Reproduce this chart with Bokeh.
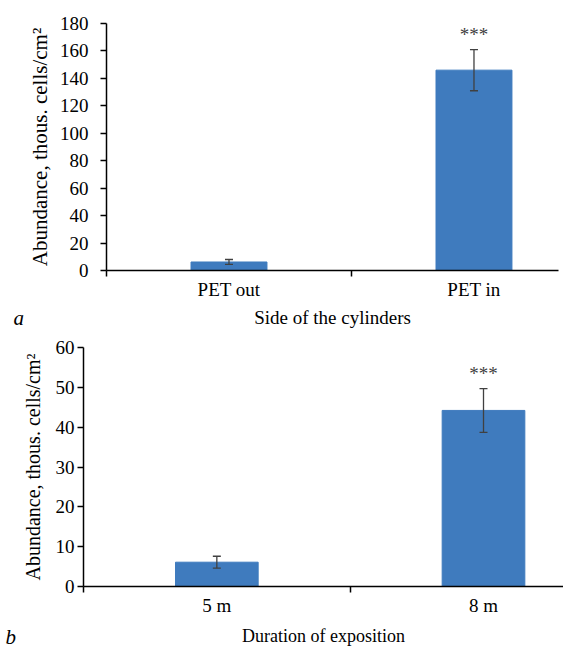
from bokeh.plotting import figure
from bokeh.models import (ColumnDataSource, Range1d, FixedTicker, Whisker, TeeHead, Title)
from bokeh.layouts import column
from bokeh.embed import file_html
from bokeh.resources import INLINE

# ---- data ----
cats_a = ["PET out", "PET in"]
vals_a = [6.2, 146.0]
err_a = [1.8, 15.0]
sig_a = ["", "***"]

cats_b = ["5 m", "8 m"]
vals_b = [6.1, 44.2]
err_b = [1.5, 5.5]
sig_b = ["", "***"]

yticks_a = list(range(0, 181, 20))
yticks_b = list(range(0, 61, 10))

BAR = "#3F7BBE"
ERR = "#404040"
FONT = "Liberation Serif"


def make(cats, vals, errs, sigs, yticks, ymax, xend, h, borders, title_x, letter,
         tick_fs, title_fs, xtick_fs, xtitle_fs, ystand, xstand):
    xs = [i + 0.5 for i in range(len(cats))]
    src = ColumnDataSource(dict(x=xs, top=vals,
                                upper=[v + e for v, e in zip(vals, errs)],
                                lower=[v - e for v, e in zip(vals, errs)],
                                sig=sigs))
    p = figure(width=563, height=h, output_backend="svg", toolbar_location=None,
               x_range=Range1d(0, xend), y_range=Range1d(0, ymax),
               min_border_left=borders[0], min_border_right=borders[1],
               min_border_top=borders[2], min_border_bottom=borders[3])
    try:
        p.frame_align = False
    except Exception:
        pass
    p.outline_line_color = None
    p.grid.visible = False
    p.vbar(x="x", top="top", width=0.31, source=src, fill_color=BAR, line_color=BAR)
    w = Whisker(base="x", upper="upper", lower="lower", source=src,
                line_color=ERR, line_width=1.3, level="overlay",
                upper_head=TeeHead(size=8, line_color=ERR, line_width=1.3),
                lower_head=TeeHead(size=8, line_color=ERR, line_width=1.3))
    p.add_layout(w)
    p.text(x="x", y="upper", text="sig", source=src, text_align="center",
           text_baseline="bottom", y_offset=-5, text_font_size="19px",
           text_color=ERR, text_font={"value": FONT})

    # y axis
    ya = p.yaxis[0]
    ya.ticker = FixedTicker(ticks=yticks)
    ya.axis_label = "Abundance, thous. cells/cm\u00b2"
    ya.axis_label_text_font = FONT
    ya.axis_label_text_font_style = "normal"
    ya.axis_label_text_font_size = title_fs
    ya.axis_label_text_color = "black"
    ya.axis_label_standoff = ystand[1]
    ya.major_label_text_font = FONT
    ya.major_label_text_font_size = tick_fs
    ya.major_label_text_color = "black"
    ya.major_label_standoff = ystand[0]
    ya.major_tick_in = 0
    ya.major_tick_out = 6
    ya.minor_tick_out = 0
    ya.minor_tick_in = 0
    ya.axis_line_width = 1.5
    ya.major_tick_line_width = 1.5

    # x axis
    xa = p.xaxis[0]
    xa.ticker = FixedTicker(ticks=xs, minor_ticks=list(range(len(cats) + 1)))
    xa.major_label_overrides = {x: c for x, c in zip(xs, cats)}
    xa.major_tick_in = 0
    xa.major_tick_out = 0
    xa.minor_tick_in = 0
    xa.minor_tick_out = 6
    xa.minor_tick_line_width = 1.5
    xa.axis_line_width = 1.5
    xa.major_label_text_font = FONT
    xa.major_label_text_font_size = xtick_fs
    xa.major_label_text_color = "black"
    xa.major_label_standoff = xstand[0]
    xa.axis_label = title_x
    xa.axis_label_text_font = FONT
    xa.axis_label_text_font_style = "normal"
    xa.axis_label_text_font_size = xtitle_fs
    xa.axis_label_text_color = "black"
    xa.axis_label_standoff = xstand[1]

    p.add_layout(Title(text=letter[2], align="left", offset=letter[0],
                       standoff=letter[1], vertical_align="top",
                       text_font=FONT, text_font_style="italic",
                       text_font_size="21px", text_color="black"), "below")
    return p


p1 = make(cats_a, vals_a, err_a, sig_a, yticks_a, 180, 1.845, 330,
          (106, 5, 23, 59), "Side of the cylinders", (-93, -50, "a"),
          "19px", "21px", "19px", "19px", (12, 5), (2, 4))
p2 = make(cats_b, vals_b, err_b, sig_b, yticks_b, 60, 1.80, 318,
          (83, 0, 17, 61), "Duration of exposition", (-78, -48, "b"),
          "19px", "20px", "19px", "18px", (3, 9), (2, 7))

p = column(p1, p2, spacing=0)
open("out.html", "w").write(file_html(p, INLINE))
